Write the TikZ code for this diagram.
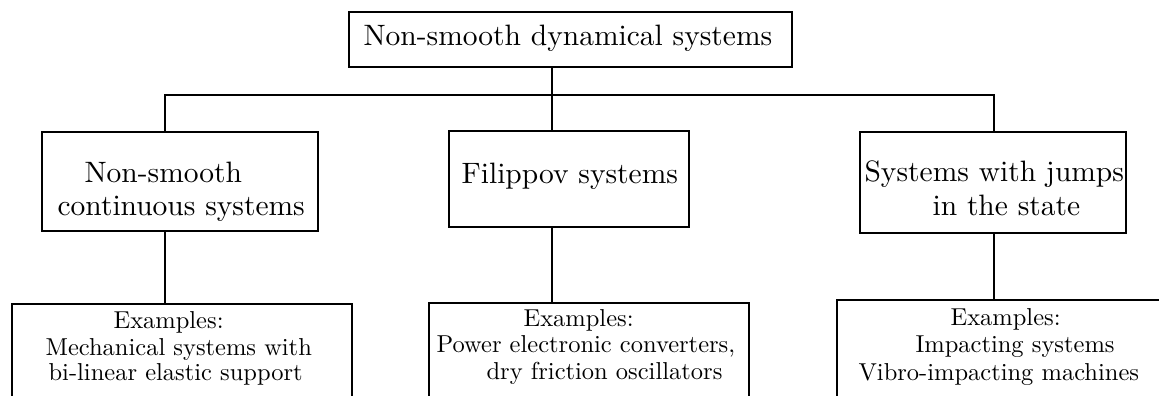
\documentclass[tikz,border=0pt]{standalone}
\usepackage{graphicx}
\begin{document}
\begin{tikzpicture}[x=0.339pt,y=-0.339pt,
  box/.style={draw, line width=0.8pt, inner sep=0pt},
  txt/.style={anchor=base west, inner sep=0pt},
  link/.style={line width=0.8pt}]
\path[use as bounding box, clip] (0,0) rectangle (1159,396);
% boxes
\node[box, minimum width=150.18pt, minimum height=18.65pt] (top) at (570.5,39.5) {};
\node[box, minimum width=93.56pt, minimum height=33.56pt] (ns) at (180,181.5) {};
\node[box, minimum width=81.36pt, minimum height=32.54pt] (fil) at (569,179) {};
\node[box, minimum width=90.17pt, minimum height=34.24pt] (jmp) at (993,182.5) {};
\node[box, minimum width=115.26pt, minimum height=42.71pt] (ex1) at (182,367) {};
\node[box, minimum width=108.48pt, minimum height=43.05pt] (ex2) at (589,366.5) {};
\node[box, minimum width=117.97pt, minimum height=44.07pt] (ex3) at (1011,365) {};
% texts
\node[txt] (t0) at (363,46) {Non-smooth dynamical systems};
\node[txt] (t1a) at (84,183) {Non-smooth};
\node[txt] (t1b) at (57,216) {continuous systems};
\node[txt] (t2) at (461,184) {Filippov systems};
\node[txt] (t3a) at (864,182) {Systems with jumps};
\node[txt] (t3b) at (932,216) {in the state};
\node[txt] (e1a) at (113,329) {\scalebox{0.83}{Examples:}};
\node[txt] (e1b) at (45,356) {\scalebox{0.83}{Mechanical systems with}};
\node[txt] (e1c) at (48,381) {\scalebox{0.83}{bi-linear elastic support}};
\node[txt] (e2a) at (523,327) {\scalebox{0.83}{Examples:}};
\node[txt] (e2b) at (436,353) {\scalebox{0.83}{Power electronic converters,}};
\node[txt] (e2c) at (486,380) {\scalebox{0.83}{dry friction oscillators}};
\node[txt] (e3a) at (950,326) {\scalebox{0.83}{Examples:}};
\node[txt] (e3b) at (915,353) {\scalebox{0.83}{Impacting systems}};
\node[txt] (e3c) at (858,381) {\scalebox{0.83}{Vibro-impacting machines}};
% connectors
\coordinate (jt) at (552,95);
\coordinate (jl) at (165,95);
\coordinate (jr) at (994,95);
\draw[link] (top.south -| jt) -- (jt);
\draw[link] (jl |- ns.north) -- (jl) -- (jr) -- (jr |- jmp.north);
\draw[link] (jt) -- (jt |- fil.north);
\draw[link] (ns.south -| jl) -- (ex1.north -| jl);
\draw[link] (fil.south -| jt) -- (ex2.north -| jt);
\draw[link] (jmp.south -| jr) -- (ex3.north -| jr);
\end{tikzpicture}
\end{document}
